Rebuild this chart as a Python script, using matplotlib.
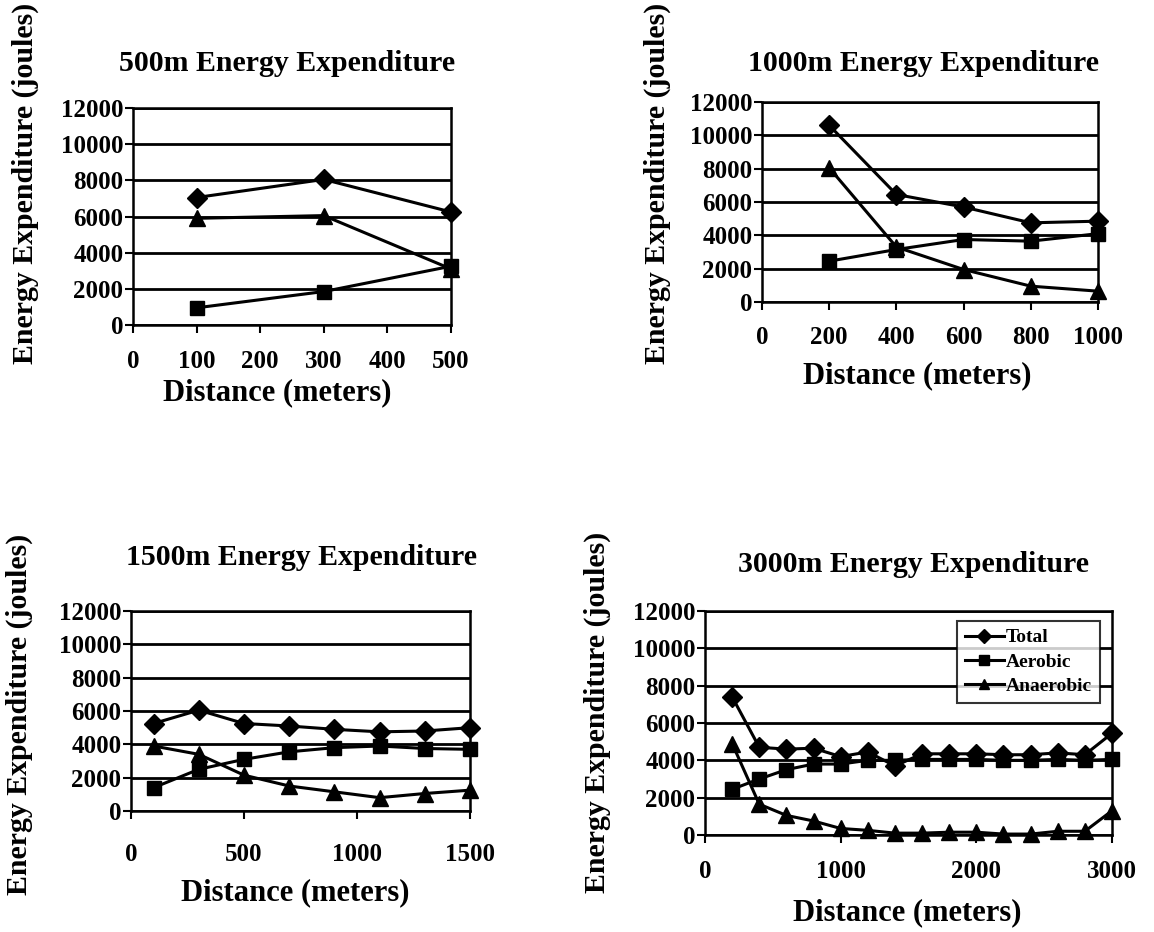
import matplotlib
matplotlib.use('Agg')
import matplotlib.pyplot as plt
from matplotlib.ticker import MultipleLocator

# ---------------- data ----------------
x_500 = [100, 300, 500]
total_500 = [7050, 8050, 6250]
aerobic_500 = [950, 1850, 3250]
anaerobic_500 = [5900, 6050, 3100]

x_1000 = [200, 400, 600, 800, 1000]
total_1000 = [10600, 6450, 5700, 4750, 4850]
aerobic_1000 = [2450, 3150, 3750, 3650, 4100]
anaerobic_1000 = [8050, 3300, 1950, 950, 650]

x_1500 = [100, 300, 500, 700, 900, 1100, 1300, 1500]
total_1500 = [5250, 6050, 5250, 5100, 4900, 4750, 4800, 5000]
aerobic_1500 = [1400, 2500, 3100, 3550, 3800, 3900, 3750, 3700]
anaerobic_1500 = [3900, 3400, 2150, 1500, 1150, 800, 1050, 1250]

x_3000 = [200, 400, 600, 800, 1000, 1200, 1400, 1600, 1800, 2000,
          2200, 2400, 2600, 2800, 3000]
total_3000 = [7400, 4700, 4600, 4650, 4200, 4450, 3700, 4350, 4350, 4350,
              4300, 4300, 4400, 4300, 5450]
aerobic_3000 = [2450, 3000, 3500, 3800, 3800, 4000, 4000, 4050, 4050, 4050,
                4000, 4000, 4050, 4000, 4050]
anaerobic_3000 = [4900, 1650, 1050, 750, 350, 250, 100, 100, 150, 150,
                  50, 50, 200, 200, 1300]

titles = ["500m Energy Expenditure", "1000m Energy Expenditure",
          "1500m Energy Expenditure", "3000m Energy Expenditure"]
series_names = ["Total", "Aerobic", "Anaerobic"]
xlabel = "Distance (meters)"
ylabel = "Energy Expenditure (joules)"

# ---------------- layout ----------------
W, H = 1154, 932
plt.rcParams['font.family'] = ['Liberation Serif', 'DejaVu Serif']
plt.rcParams['font.weight'] = 'bold'

fig = plt.figure(figsize=(W / 100, H / 100), dpi=100)
fig.patch.set_facecolor('white')

panels = [
    dict(box=(133, 451, 108, 325), xmax=500, xstep=100, t=(287, 72), xl=(277, 393), yl=(25, 183), pad=12,
         x=x_500, data=(total_500, aerobic_500, anaerobic_500)),
    dict(box=(762, 1098, 102, 302), xmax=1000, xstep=200, t=(923, 72), xl=(917, 376), yl=(657, 183), pad=11,
         x=x_1000, data=(total_1000, aerobic_1000, anaerobic_1000)),
    dict(box=(131, 470, 611, 811), xmax=1500, xstep=500, t=(302, 566), xl=(295, 893), yl=(19, 714), pad=17,
         x=x_1500, data=(total_1500, aerobic_1500, anaerobic_1500)),
    dict(box=(705, 1112, 611, 835), xmax=3000, xstep=1000, t=(914, 573), xl=(907, 913), yl=(597, 712), pad=12,
         x=x_3000, data=(total_3000, aerobic_3000, anaerobic_3000)),
]
markers = ['D', 's', '^']
msizes = [10, 10, 11]

for i, p in enumerate(panels):
    l, r, t, b = p['box']
    ax = fig.add_axes([l / W, 1 - b / H, (r - l) / W, (b - t) / H])
    for k, (vals, m, ms) in enumerate(zip(p['data'], markers, msizes)):
        ax.plot(p['x'], vals, color='black', lw=2.2, marker=m, ms=ms,
                mfc='black', mec='black', label=series_names[k], clip_on=False, zorder=3)
    ax.set_xlim(0, p['xmax'])
    ax.set_ylim(0, 12000)
    ax.xaxis.set_major_locator(MultipleLocator(p['xstep']))
    ax.yaxis.set_major_locator(MultipleLocator(2000))
    ax.yaxis.grid(True, color='black', lw=2.0)
    ax.set_axisbelow(True)
    for s in ax.spines.values():
        s.set_color('black')
        s.set_linewidth(1.8)
    ax.tick_params(axis='both', direction='out', length=6, width=1.5,
                   labelsize=18, colors='black')
    ax.tick_params(axis='y', pad=1)
    ax.tick_params(axis='x', pad=p['pad'])
    for lab in ax.get_xticklabels() + ax.get_yticklabels():
        lab.set_fontweight('bold')

    # title
    tx, ty = p['t']
    ax.set_title(titles[i], fontsize=21.5, fontweight='bold',
                 x=(tx - l) / (r - l), y=(b - ty) / (b - t), va='center')
    # axis labels
    ax.set_xlabel(xlabel, fontsize=22, fontweight='bold')
    xx, xy = p['xl']
    ax.xaxis.set_label_coords((xx - l) / (r - l), (b - xy) / (b - t))
    ax.xaxis.label.set_va('center')
    ax.set_ylabel(ylabel, fontsize=21.5, fontweight='bold')
    yx, yy = p['yl']
    ax.yaxis.set_label_coords((yx - l) / (r - l), (b - yy) / (b - t))
    ax.yaxis.label.set_va('center')

    if i == 3:
        leg = ax.legend(loc='upper right', bbox_to_anchor=(0.97, 0.955),
                        fontsize=14, markerscale=0.7, handlelength=2.0,
                        frameon=True, fancybox=False, borderpad=0.4,
                        labelspacing=0.35, handletextpad=0.1, borderaxespad=0)
        leg.get_frame().set_edgecolor('black')
        leg.get_frame().set_linewidth(1.5)
        for txt in leg.get_texts():
            txt.set_fontweight('bold')

fig.savefig('out.png', dpi=100, facecolor='white')
